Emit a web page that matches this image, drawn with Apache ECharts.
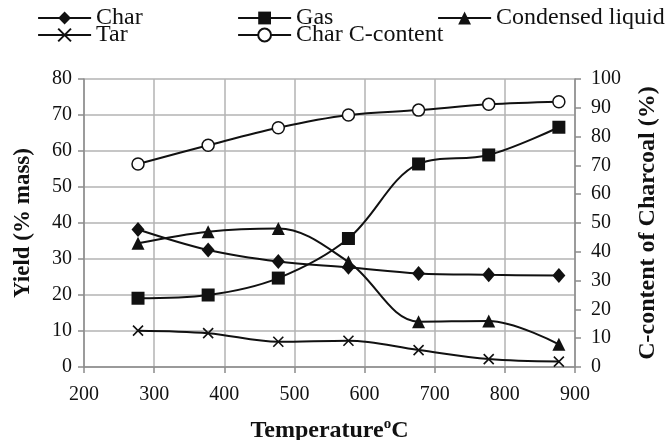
<!DOCTYPE html>
<html>
<head>
<meta charset="utf-8">
<script src="https://cdn.jsdelivr.net/npm/echarts@6/dist/echarts.min.js"></script>
<style>html,body{margin:0;padding:0;background:#fff}#c{width:665px;height:440px}</style>
</head>
<body>
<div id="c"></div>
<script>
const temps = [277, 377, 477, 577, 677, 777, 877];
const charYield = [38.2, 32.5, 29.3, 27.7, 26.0, 25.6, 25.4];
const gasYield = [19.1, 20.0, 24.7, 35.7, 56.4, 58.9, 66.6];
const liquidYield = [34.4, 37.6, 38.5, 29.2, 12.6, 12.8, 6.3];
const tarYield = [10.1, 9.4, 7.0, 7.3, 4.7, 2.2, 1.5];
const charCContent = [70.5, 77.0, 83.1, 87.5, 89.2, 91.2, 92.1];
const seriesNames = ['Char', 'Gas', 'Condensed liquid', 'Tar', 'Char C-content'];

const FONT = "'Liberation Serif', 'Times New Roman', serif";
const pair = (vals) => temps.map((t, i) => [t, vals[i]]);
const chart = echarts.init(document.getElementById('c'), null, {renderer: 'canvas'});

function mkSeries(name, vals, symbol, size, yIdx, hollow) {
  return {
    name, type: 'line', yAxisIndex: yIdx, data: pair(vals),
    smooth: 0.35, symbol, symbolSize: size, showSymbol: true,
    lineStyle: {color: '#111', width: 2},
    itemStyle: hollow ? {color: '#fff', borderColor: '#111', borderWidth: 1.5}
                      : {color: '#111', borderColor: '#111', borderWidth: symbol.startsWith('path') ? 1.6 : 0},
    emphasis: {disabled: true}, z: 3
  };
}

const legendPos = [[37, 6], [237, 6], [437, 6], [37, 23], [237, 23]];
const legends = seriesNames.map((n, i) => ({
  data: [n], left: legendPos[i][0], top: legendPos[i][1], padding: 0,
  itemWidth: 53, itemHeight: 16, itemGap: 0, selectedMode: false,
  lineStyle: {width: 2.2, color: '#111'},
  textStyle: {fontFamily: FONT, fontSize: 24, color: '#111', lineHeight: 16}
}));

chart.setOption({
  animation: false,
  backgroundColor: '#fff',
  legend: legends,
  grid: {left: 84, right: 90, top: 79, bottom: 73, containLabel: false, outerBoundsMode: 'none'},
  xAxis: {
    type: 'value', min: 200, max: 900, interval: 100,
    name: 'Temperature{sup|o}C', nameLocation: 'middle', nameGap: 50,
    nameTextStyle: {fontFamily: FONT, fontSize: 24, fontWeight: 'bold', color: '#111',
      rich: {sup: {fontFamily: FONT, fontSize: 15, fontWeight: 'bold', color: '#111', verticalAlign: 'top', padding: [0, 0, 12, 0]}}},
    axisLine: {show: true, lineStyle: {color: '#8c8c8c', width: 1.5}},
    axisTick: {show: true, inside: false, length: 6, lineStyle: {color: '#8c8c8c', width: 1.5}},
    axisLabel: {fontFamily: FONT, fontSize: 20, color: '#111', margin: 18},
    splitLine: {show: true, lineStyle: {color: '#b3b3b3', width: 1.5}}
  },
  yAxis: [{
    type: 'value', min: 0, max: 80, interval: 10, position: 'left',
    name: 'Yield (% mass)', nameLocation: 'middle', nameGap: 49, nameRotate: 90,
    nameTextStyle: {fontFamily: FONT, fontSize: 23, fontWeight: 'bold', color: '#111'},
    axisLine: {show: true, lineStyle: {color: '#8c8c8c', width: 1.5}},
    axisTick: {show: true, inside: false, length: 6, lineStyle: {color: '#8c8c8c', width: 1.5}},
    axisLabel: {fontFamily: FONT, fontSize: 20, color: '#111', margin: 12},
    splitLine: {show: true, lineStyle: {color: '#b3b3b3', width: 1.5}}
  }, {
    type: 'value', min: 0, max: 100, interval: 10, position: 'right',
    name: 'C-content of Charcoal (%)', nameLocation: 'middle', nameGap: 61, nameRotate: 90,
    nameTextStyle: {fontFamily: FONT, fontSize: 24, fontWeight: 'bold', color: '#111'},
    axisLine: {show: true, lineStyle: {color: '#8c8c8c', width: 1.5}},
    axisTick: {show: true, inside: false, length: 6, lineStyle: {color: '#8c8c8c', width: 1.5}},
    axisLabel: {fontFamily: FONT, fontSize: 20, color: '#111', margin: 16},
    splitLine: {show: false}
  }],
  series: [
    mkSeries('Char', charYield, 'diamond', [13, 15], 0, false),
    mkSeries('Gas', gasYield, 'rect', 13, 0, false),
    mkSeries('Condensed liquid', liquidYield, 'triangle', 13, 0, false),
    mkSeries('Tar', tarYield, 'path://M0,0L10,10M10,0L0,10', 10, 0, false),
    mkSeries('Char C-content', charCContent, 'circle', 12, 1, true)
  ]
});
</script>
</body>
</html>
